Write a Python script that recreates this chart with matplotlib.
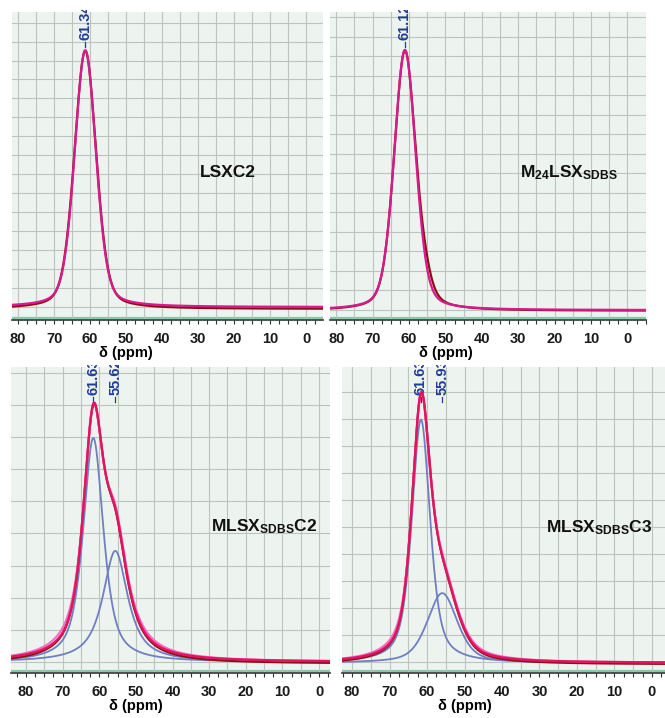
import numpy as np
import matplotlib
matplotlib.use("Agg")
from matplotlib import pyplot as plt
from matplotlib.ticker import MultipleLocator, FuncFormatter
from matplotlib.transforms import Bbox, TransformedBbox, blended_transform_factory

plt.rcParams['font.family'] = ['Liberation Sans', 'DejaVu Sans']
plt.rcParams['mathtext.fontset'] = 'custom'
plt.rcParams['mathtext.rm'] = 'Liberation Sans'
plt.rcParams['mathtext.bf'] = 'Liberation Sans:bold'

# picos: (centro ppm, altura, anchura a media altura ppm, fraccion lorentziana)
lsxc2_exp = [(61.34, 0.838, 7.2, 0.3)]
lsxc2_fit = [(61.34, 0.834, 7.0, 0.3)]
lsxc2_base = [0.036, 0.042]          # linea base: experimental, ajuste

m24_exp = [(61.12, 0.840, 7.0, 0.3), (55.5, 0.045, 5.0, 0.6)]
m24_fit = [(61.12, 0.845, 7.0, 0.3)]
m24_base = [0.030, 0.032]

c2_exp = [(61.63, 0.734, 6.7, 0.7), (55.62, 0.360, 8.2, 0.9)]
c2_env = [(61.63, 0.728, 6.6, 0.85), (55.62, 0.361, 8.3, 1.0)]
c2_comp = [(61.63, 0.732, 6.6, 0.7), (55.62, 0.363, 8.2, 0.9)]
c2_base = [0.030, 0.036]

c3_exp = [(61.63, 0.797, 5.9, 0.6), (55.93, 0.228, 9.5, 0.5)]
c3_env = [(61.63, 0.792, 5.8, 0.7), (55.93, 0.228, 9.6, 0.6)]
c3_comp = [(61.63, 0.795, 5.8, 0.6), (55.93, 0.228, 9.5, 0.5)]
c3_base = [0.028, 0.033]

nombres = ["LSXC2", r"$\mathbf{M_{24}LSX_{SDBS}}$",
           r"$\mathbf{MLSX_{SDBS}C2}$", r"$\mathbf{MLSX_{SDBS}C3}$"]

W, H = 665, 718
fondo = '#edf3ee'
rejilla = '#bcc4be'
azul = '#1f3d99'


def pv(x, c, h, w, eta):
    d = (x - c) / w
    return h * (eta / (1 + 4 * d * d) + (1 - eta) * np.exp(-4 * np.log(2) * d * d))


def suma(x, picos, base):
    y = np.full_like(x, base)
    for p in picos:
        y = y + pv(x, *p)
    return y


def caja(x0, y0, x1, y1):
    return [x0 / W, 1 - y1 / H, (x1 - x0) / W, (y1 - y0) / H]


def marca(ax, ppm):
    tr = blended_transform_factory(ax.transData, ax.transAxes)
    ax.plot([ppm, ppm], [0.886, 0.903], transform=tr, color=azul, lw=0.9)
    t = ax.text(ppm, 0.909, f"{ppm:.2f}", rotation=90, ha='center', va='bottom',
                transform=tr, fontsize=10.5, fontweight='bold', color=azul)
    # la etiqueta queda cortada por el borde superior del grafico
    t.set_clip_box(TransformedBbox(Bbox([[0, 0], [1, 1.005]]), ax.transAxes))
    t.set_clip_on(True)


def panel(rect, xlim, ybase, ystep, nombre, npos, xlab):
    ax = fig.add_axes(caja(*rect))
    ax.set_facecolor(fondo)
    ax.set_xlim(*xlim)
    ax.set_ylim(0, 1)
    ax.xaxis.set_major_locator(MultipleLocator(5))
    ax.xaxis.set_minor_locator(MultipleLocator(2.5))
    ax.xaxis.set_major_formatter(FuncFormatter(lambda v, p: f"{v:.0f}" if round(v) % 10 == 0 else ""))
    ax.set_yticks(np.arange(ybase, 1.0, ystep))
    ax.grid(True, which='major', color=rejilla, lw=0.8)
    ax.tick_params(axis='y', length=0, labelleft=False)
    ax.tick_params(axis='x', which='both', direction='out', length=3, width=0.8,
                   color='#333333', pad=6)
    for lab in ax.get_xticklabels():
        lab.set_fontsize(10.5)
        lab.set_fontweight('bold')
        lab.set_color('#1a1a1a')
    for s in ['top', 'left', 'right']:
        ax.spines[s].set_visible(False)
    ax.spines['bottom'].set_color('#333333')
    ax.spines['bottom'].set_linewidth(1.2)
    ax.axhline(0.008, color='#86c9a8', lw=1.6, zorder=1)
    ax.set_xlabel("δ (ppm)", fontsize=10.5, fontweight='bold', labelpad=3)
    ax.xaxis.set_label_coords((xlim[0] - xlab) / (xlim[0] - xlim[1]), -0.085)
    ax.text(npos[0], npos[1], nombre, transform=ax.transAxes, ha='center', va='center',
            fontsize=12.5, fontweight='bold', color='#111111')
    return ax


fig = plt.figure(figsize=(W / 100, H / 100), dpi=100)

# LSXC2
xl = (81.7, -4.7)
x = np.linspace(xl[0], xl[1], 1500)
ax = panel((12, 12, 323, 320), xl, 0.043, 0.0615, nombres[0], (0.695, 0.48), 50)
ax.plot(x, suma(x, lsxc2_exp, lsxc2_base[0]), color='#8c0f16', lw=1.6, zorder=3)
ax.plot(x, suma(x, lsxc2_fit, lsxc2_base[1]), color='#d81b8c', lw=1.6, zorder=4)
for p in lsxc2_fit:
    marca(ax, p[0])

# M24LSX_SDBS
xl = (81.7, -5.1)
x = np.linspace(xl[0], xl[1], 1500)
ax = panel((330, 12, 646, 320), xl, 0.034, 0.0633, nombres[1], (0.756, 0.477), 50)
ax.plot(x, suma(x, m24_exp, m24_base[0]), color='#8c0f16', lw=1.6, zorder=3)
ax.plot(x, suma(x, m24_fit, m24_base[1]), color='#d81b8c', lw=1.6, zorder=4)
for p in m24_fit:
    marca(ax, p[0])

# MLSX_SDBS C2 y C3 con sus componentes
for rect, xl, yb, ys, nombre, npos, exp, env, comp, base in [
        ((11, 367, 330, 673), (84.1, -3.0), 0.036, 0.105, nombres[2], (0.793, 0.477),
         c2_exp, c2_env, c2_comp, c2_base),
        ((342, 367, 665, 673), (82.7, -3.5), 0.037, 0.088, nombres[3], (0.796, 0.474),
         c3_exp, c3_env, c3_comp, c3_base)]:
    x = np.linspace(xl[0], xl[1], 1500)
    ax = panel(rect, xl, yb, ys, nombre, npos, 50)
    for p in comp:
        ax.plot(x, base[1] + pv(x, *p), color='#6f7fc2', lw=1.3, zorder=3)
    ax.plot(x, suma(x, exp, base[0]), color='#8c0f16', lw=1.5, zorder=4)
    ax.plot(x, suma(x, env, base[1]), color='#f46cc4', lw=1.5, zorder=4)
    ax.plot(x, suma(x, comp, base[1]), color='#e3145f', lw=1.7, zorder=5)
    for p in comp:
        marca(ax, p[0])

fig.savefig("out.png", dpi=100)
